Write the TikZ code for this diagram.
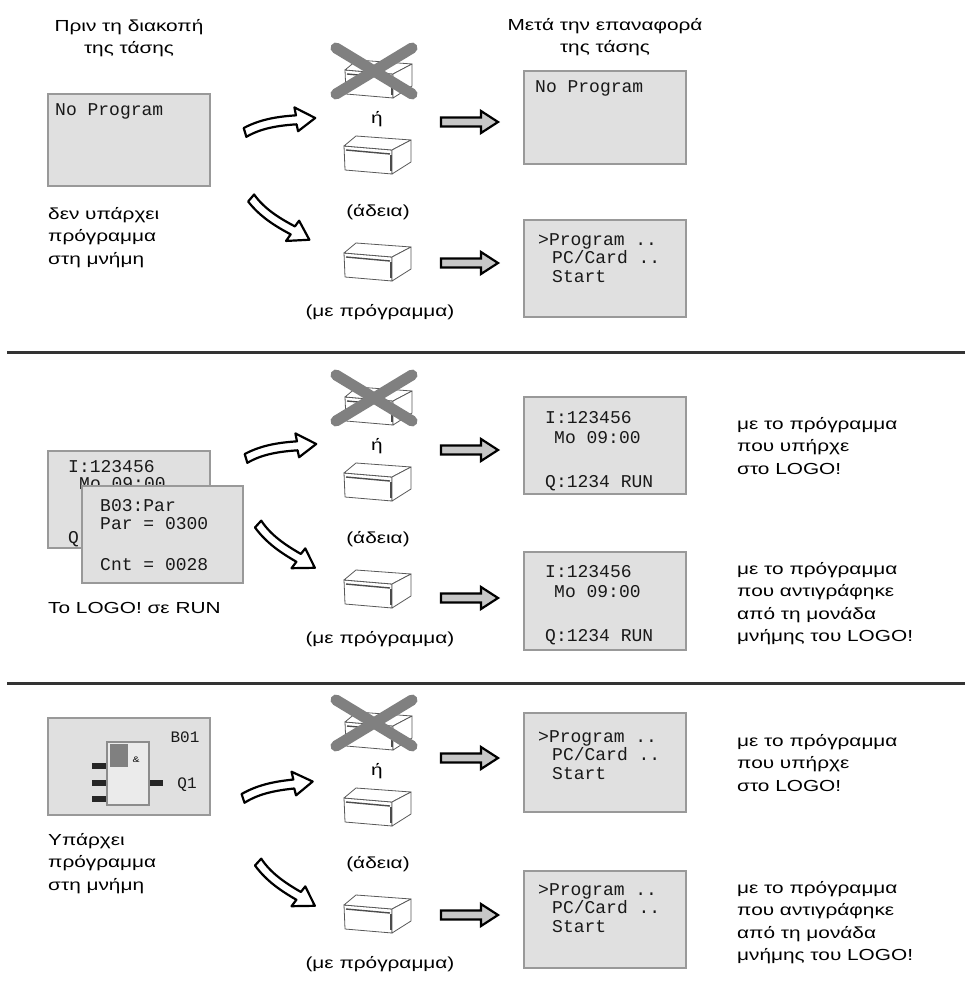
\documentclass[tikz,border=0pt]{standalone}
\usepackage{fontspec}
\setmainfont[FakeStretch=1.3]{Liberation Sans}
\newfontfamily\lcdfont{Liberation Mono}

\tikzset{
  lcd/.style={draw=black!40, fill=black!12, line width=1.8pt},
  lcdtxt/.style={font=\lcdfont\fontsize{18}{18.5}\selectfont, text=black!90, inner sep=0pt, anchor=north west, align=left},
  txt/.style={font=\fontsize{16}{22.5}\selectfont, text=black, inner sep=0pt, anchor=north west, align=left},
  head/.style={txt, anchor=north, align=center},
  sep/.style={line width=3pt, black!80},
  fat/.style={draw=black, line width=2.2pt, fill=black!22, line join=miter},
  hollow/.style={draw=black, line width=2.2pt, fill=white, line join=round},
  edge/.style={draw=black!65, line width=0.8pt, line join=round},
  % module icon
  card/.pic={
    \filldraw[edge, fill=white] (-33,-9) -- (15,-5) -- (15,19) -- (-32,15) -- cycle;
    \filldraw[edge, fill=white] (-33,-9) -- (-21,-19) -- (34,-15) -- (15,-5) -- cycle;
    \filldraw[edge, fill=white] (15,-5) -- (34,-15) -- (34,7) -- (15,19) -- cycle;
    \draw[black!70, line width=1.4pt] (-31,-5) -- (13,-1);
    \draw[black!70, line width=1.4pt] (14,0) -- (14,16);
  },
  % module crossed out
  nocard/.pic={
    \pic at (4,8) {card};
    \draw[gray, line width=11pt, line cap=round] (-38,-23) -- (38,23) (-38,23) -- (38,-23);
  },
  % straight block arrow
  push/.pic={
    \filldraw[fat] (0,-4.5) -- (40,-4.5) -- (40,-11) -- (57,0) -- (40,11) -- (40,4.5) -- (0,4.5) -- cycle;
  },
  % bent hollow arrow
  swing/.pic={
    \filldraw[hollow] (0,-4) .. controls (18,-12) and (36,-13) .. (53,-13) -- (52,-21) -- (72,-9) -- (54,3) -- (53,-4) .. controls (36,-4) and (18,-3) .. (2,5) -- cycle;
  }
}

\begin{document}
\begin{tikzpicture}[x=1pt,y=-1pt]
  \useasboundingbox[fill=white] (0,0) rectangle (965,981);

  % titles
  \node[head] (before) at (129,19) {Πριν τη διακοπή\\της τάσης};
  \node[head] (after) at (605,18) {Μετά την επαναφορά\\της τάσης};

  % separators
  \draw[sep] (7,352) -- (965,352);
  \draw[sep] (7,683) -- (965,683);

  % middle column, same in every row
  \foreach \dy [count=\s] in {0,327,652}{
    \pic at (374,71+\dy) {nocard};
    \node[txt, anchor=center] (or\s) at (377,119+\dy) {ή};
    \pic at (377,155+\dy) {card};
    \node[txt, anchor=center] (empty\s) at (378,212+\dy) {(άδεια)};
    \pic at (377,262+\dy) {card};
    \node[txt, anchor=center] (full\s) at (380,312+\dy) {(με πρόγραμμα)};
  }

  %----------------------------------------- row 1
  \filldraw[lcd] (48,94) rectangle (210,186);
  \node[lcdtxt] (noprogA) at (55,103) {No Program};
  \node[txt] (nomem) at (48,207) {δεν υπάρχει\\πρόγραμμα\\στη μνήμη};

  \pic[rotate=4] at (244,132) {swing};
  \pic[rotate=-28, yscale=-1] at (250,198) {swing};
  \pic at (441,122) {push};
  \pic at (441,263) {push};

  \filldraw[lcd] (524,71) rectangle (686,164);
  \node[lcdtxt] (noprogB) at (535,80) {No Program};
  \filldraw[lcd] (524,220) rectangle (686,317);
  \node[lcdtxt] (menuA) at (538,233) {>Program ..\\\hspace*{14pt}PC/Card ..\\\hspace*{14pt}Start};

  %----------------------------------------- row 2
  % display behind
  \filldraw[lcd] (48,451) rectangle (210,548);
  \node[lcdtxt] (inA) at (68,460) {I:123456};
  \node[lcdtxt] (dayA) at (79,477) {Mo 09:00};
  \node[lcdtxt] (outA) at (68,531) {Q};
  % display in front
  \filldraw[lcd] (82,486) rectangle (243,583);
  \node[lcdtxt] (blkpar) at (100,499) {B03:Par};
  \node[lcdtxt] (parval) at (100,517) {Par = 0300};
  \node[lcdtxt] (cntval) at (100,558) {Cnt = 0028};
  \node[txt] (run) at (48,602) {Το LOGO! σε RUN};

  \pic[rotate=4] at (245,458) {swing};
  \pic[rotate=-30, yscale=-1] at (257,524) {swing};
  \pic at (441,450) {push};
  \pic at (441,598) {push};

  \filldraw[lcd] (524,397) rectangle (686,494);
  \node[lcdtxt, font=\lcdfont\fontsize{18}{20.5}\selectfont] (runB) at (545,411) {I:123456\\\hspace*{9pt}Mo 09:00\\[23pt]Q:1234 RUN};
  \filldraw[lcd] (524,552) rectangle (686,650);
  \node[lcdtxt, font=\lcdfont\fontsize{18}{20.5}\selectfont] (runC) at (545,565) {I:123456\\\hspace*{9pt}Mo 09:00\\[23pt]Q:1234 RUN};
  \node[txt] (keptA) at (737,417) {με το πρόγραμμα\\που υπήρχε\\στο LOGO!};
  \node[txt] (copyA) at (737,562) {με το πρόγραμμα\\που αντιγράφηκε\\από τη μονάδα\\μνήμης του LOGO!};

  %----------------------------------------- row 3
  \filldraw[lcd] (48,718) rectangle (210,815);
  \node[lcdtxt, font=\lcdfont\fontsize{16}{16}\selectfont, anchor=center] (blk) at (185,737) {B01};
  \filldraw[draw=black!45, fill=black!8, line width=1.2pt] (107,742) rectangle (149,805);
  \fill[black!50] (110,744) rectangle (128,767);
  \node[txt, font=\fontsize{8}{8}\selectfont, anchor=center] (amp) at (136,760) {\&};
  \foreach \y in {766,783,799}
    \fill[black!85] (92,\y-3) rectangle (106,\y+3);
  \fill[black!85] (150,780) rectangle (163,786);
  \node[lcdtxt, font=\lcdfont\fontsize{16}{16}\selectfont, anchor=center] (q1) at (187,785) {Q1};
  \node[txt] (hasmem) at (48,833) {Υπάρχει\\πρόγραμμα\\στη μνήμη};

  \pic[rotate=6] at (242,798) {swing};
  \pic[rotate=-30, yscale=-1] at (257,862) {swing};
  \pic at (441,758) {push};
  \pic at (441,915) {push};

  \filldraw[lcd] (524,713) rectangle (686,812);
  \node[lcdtxt] (menuB) at (538,730) {>Program ..\\\hspace*{14pt}PC/Card ..\\\hspace*{14pt}Start};
  \filldraw[lcd] (524,871) rectangle (686,968);
  \node[lcdtxt] (menuC) at (538,883) {>Program ..\\\hspace*{14pt}PC/Card ..\\\hspace*{14pt}Start};
  \node[txt] (keptB) at (737,734) {με το πρόγραμμα\\που υπήρχε\\στο LOGO!};
  \node[txt] (copyB) at (737,881) {με το πρόγραμμα\\που αντιγράφηκε\\από τη μονάδα\\μνήμης του LOGO!};
\end{tikzpicture}
\end{document}
